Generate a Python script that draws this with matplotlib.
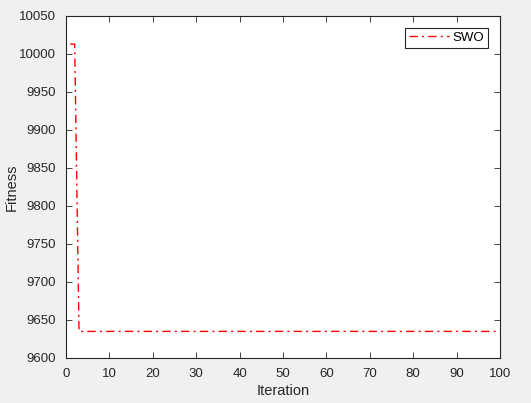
import numpy as np
import matplotlib
matplotlib.use("Agg")
import matplotlib.pyplot as plt

# convergence curve
iterations = list(range(1, 101))
fitness = [10013.0, 10013.0] + [9635.0] * 98
xticks = list(range(0, 101, 10))
yticks = list(range(9600, 10051, 50))

plt.rcParams['font.family'] = ['Liberation Sans', 'DejaVu Sans']

fig = plt.figure(figsize=(5.31, 4.03), dpi=100, facecolor='#f0f0f0')
ax = fig.add_axes([66/531, 45/403, 434/531, 342/403])
ax.plot(iterations, fitness, color='red', linestyle=(0, (6, 3, 1.5, 3)),
        linewidth=1.0, label='SWO')

ax.set_xlim(0, 100)
ax.set_ylim(9600, 10050)
ax.set_xticks(xticks)
ax.set_yticks(yticks)
ax.tick_params(direction='in', top=True, right=True, labelsize=9.5, length=4,
               width=0.6, colors='#262626', labelcolor='#262626', pad=7)
for s in ax.spines.values():
    s.set_linewidth(0.8)
    s.set_color('#262626')

ax.set_xlabel('Iteration', fontsize=10.5, color='#262626', labelpad=3)
ax.set_ylabel('Fitness', fontsize=10.5, color='#262626')
ax.yaxis.set_label_coords(-0.11, 0.5)

leg = ax.legend(loc='upper right', fontsize=9.5, fancybox=False, framealpha=1,
                edgecolor='#262626', handlelength=3, handletextpad=0.3,
                borderpad=0.3, borderaxespad=0.9)
leg.get_frame().set_linewidth(0.8)

fig.savefig('out.png', dpi=100, facecolor=fig.get_facecolor())
